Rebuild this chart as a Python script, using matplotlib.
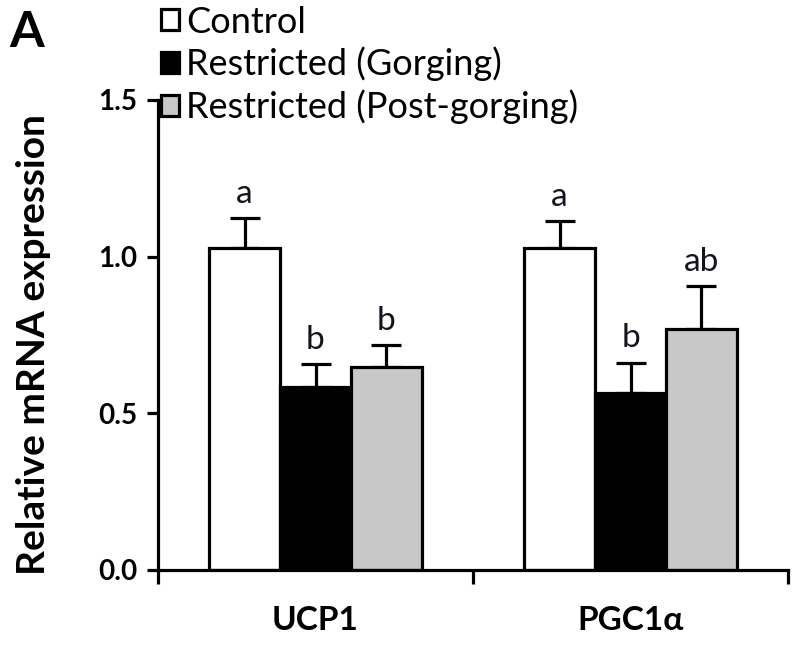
import numpy as np
import matplotlib.pyplot as plt
from matplotlib.patches import Patch

plt.rcParams['font.family'] = ['Lato', 'DejaVu Sans']

genes = ['UCP1', 'PGC1α']
groups = ['Control', 'Restricted (Gorging)', 'Restricted (Post-gorging)']
means = [[1.028, 0.584, 0.648],
         [1.028, 0.565, 0.769]]
errs = [[0.095, 0.073, 0.070],
        [0.086, 0.096, 0.137]]
letters = [['a', 'b', 'b'],
           ['a', 'b', 'ab']]
colors = ['white', 'black', '#c8c8c8']

fig = plt.figure(figsize=(8, 6.45), dpi=100)
ax = fig.add_axes([0.1975, 0.1163, 0.7875, 0.7287])

x = np.arange(len(genes))
w = 0.225
for j in range(3):
    m = [means[i][j] for i in range(len(genes))]
    e = [errs[i][j] for i in range(len(genes))]
    pos = x + (j - 1) * w
    ax.bar(pos, m, w, color=colors[j], edgecolor='black', linewidth=2.3, zorder=2)
    ax.errorbar(pos, m, yerr=[np.zeros(len(e)), e], fmt='none', ecolor='black',
                elinewidth=2.3, capsize=11, capthick=2.3, zorder=1)
    for i in range(len(genes)):
        ax.text(pos[i], m[i] + e[i] + 0.03, letters[i][j], ha='center', va='bottom',
                fontsize=24, color='#14141e')

ax.set_xlim(-0.5, 1.5)
ax.set_ylim(0, 1.5)
ax.set_xticks([-0.5, 0.5, 1.5])
ax.set_xticklabels([])
ax.set_xticks(x, minor=True)
ax.set_xticklabels(genes, minor=True, fontsize=24, fontweight='bold')
ax.tick_params(axis='x', which='minor', length=0, pad=26)
ax.tick_params(axis='x', which='major', direction='out', length=10, width=2.3)
ax.set_yticks([0, 0.5, 1.0, 1.5])
ax.set_yticklabels(['0.0', '0.5', '1.0', '1.5'], fontsize=20, fontweight='bold')
ax.tick_params(axis='y', direction='out', length=8, width=2.3, pad=7)
for s in ['top', 'right']:
    ax.spines[s].set_visible(False)
for s in ['left', 'bottom']:
    ax.spines[s].set_linewidth(2.3)
ax.set_ylabel('Relative mRNA expression', fontsize=28, fontweight='bold')
ax.yaxis.set_label_coords(-0.17, 0.48)

handles = [Patch(facecolor=c, edgecolor='black', linewidth=2.3) for c in colors]
fig.legend(handles, groups, loc='upper left', bbox_to_anchor=(0.197, 0.997),
           frameon=False, fontsize=26, handlelength=0.5, handleheight=0.5,
           handletextpad=0.2, labelspacing=0.23, borderaxespad=0, borderpad=0.1)

fig.text(0.012, 0.985, 'A', fontsize=36, fontweight='bold', va='top')

fig.savefig('out.png', dpi=100)
